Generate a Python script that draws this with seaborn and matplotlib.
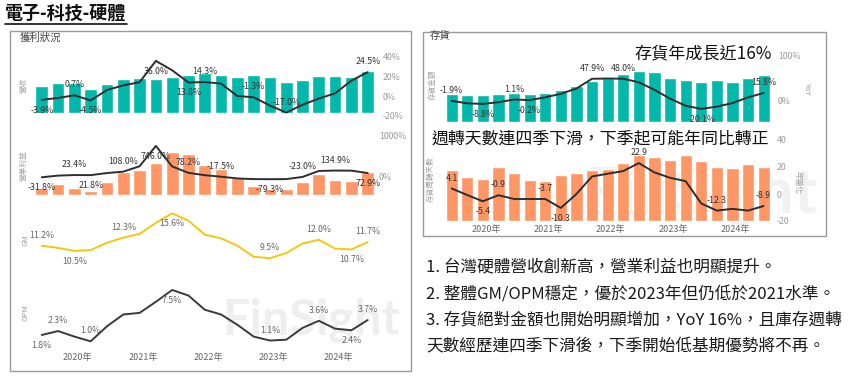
import numpy as np
import matplotlib.pyplot as plt
import seaborn as sns
from matplotlib.patches import Rectangle
from matplotlib.lines import Line2D

# quarterly data, 2019Q4 - 2024Q4
quarters = ['2019Q4', '2020Q1', '2020Q2', '2020Q3', '2020Q4', '2021Q1', '2021Q2',
            '2021Q3', '2021Q4', '2022Q1', '2022Q2', '2022Q3', '2022Q4', '2023Q1',
            '2023Q2', '2023Q3', '2023Q4', '2024Q1', '2024Q2', '2024Q3', '2024Q4']
years = ['2020年', '2021年', '2022年', '2023年', '2024年']

revenue = [82, 92, 92, 74, 87, 102, 105, 102, 110, 115, 122, 115, 110, 115, 110, 95, 100, 112, 113, 110, 127]
revenue_yoy = [-3.9, -2.0, 0.7, -4.5, 6.1, 10.9, 14.1, 36.0, 26.4, 13.8, 14.3, 12.7, 0.0, -1.3,
               -9.8, -17.0, -9.0, -2.6, 2.7, 15.8, 24.5]
op_income = [22, 32, 22, 12, 38, 68, 75, 95, 128, 123, 90, 78, 50, 28, 19, 18, 40, 63, 45, 42, 70]
op_income_yoy = [-31.8, 10, 23.4, 21.8, 73, 108.0, 241, 746.0, 237, 78.2, 20, -17.5, -61, -77,
                 -79.3, -77, -23.0, 125, 134.9, 133, 72.9]
gm = [11.2, 10.9, 10.5, 10.6, 11.6, 12.3, 12.8, 14.3, 15.6, 14.6, 12.7, 12.2, 11.2, 9.7, 9.5,
      10.2, 11.5, 12.0, 10.8, 10.7, 11.7]
opm = [1.8, 2.3, 1.6, 1.0, 2.9, 4.4, 4.6, 6.0, 7.5, 6.8, 5.0, 4.4, 3.1, 1.6, 1.1, 1.2, 2.7,
       3.6, 2.6, 2.4, 3.7]
inventory = [83, 80, 80, 83, 85, 83, 87, 95, 108, 123, 130, 143, 152, 150, 132, 125, 120, 125, 120, 130, 140]
inventory_yoy = [-1.9, -7.5, -8.8, -5.0, 1.1, -0.2, 6.0, 14.0, 26.0, 47.9, 48.5, 48.0, 40.0, 23.0,
                 3.0, -13.0, -20.1, -15.0, -7.0, 6.0, 15.8]
turnover_days = [64, 55, 53, 67, 60, 51, 50, 58, 60, 64, 65, 73, 83, 80, 76, 83, 75, 68, 66, 71, 67]
turnover_chg = [4.1, -0.8, -5.4, -0.9, -3.7, -3.7, -3.7, -10.3, 0.0, 13.0, 15.0, 17.0, 22.9, 16.0,
                12.0, 9.5, -7.0, -12.3, -11.0, -12.3, -8.9]

# which points carry a data label (a = above, b = below)
rev_marks = {0: 'b', 2: 'a', 3: 'b', 7: 'b', 9: 'b', 10: 'a', 13: 'a', 15: 'a', 20: 'a'}
op_marks = {0: 'b', 2: 'a', 3: 'b', 5: 'a', 7: 'b', 9: 'a', 11: 'a', 14: 'b', 16: 'a', 18: 'a', 20: 'b'}
gm_marks = {0: 'a', 2: 'b', 5: 'a', 8: 'b', 14: 'a', 17: 'a', 19: 'b', 20: 'a'}
opm_marks = {0: 'b', 1: 'a', 3: 'a', 8: 'b', 14: 'a', 17: 'a', 19: 'b', 20: 'a'}
inv_marks = {0: 'a', 2: 'b', 4: 'a', 5: 'b', 9: 'a', 11: 'a', 16: 'b', 20: 'a'}
turn_marks = {0: 'a', 2: 'b', 3: 'a', 6: 'a', 7: 'b', 12: 'a', 17: 'a', 20: 'a'}

notes = ['1. 台灣硬體營收創新高，營業利益也明顯提升。',
         '2. 整體GM/OPM穩定，優於2023年但仍低於2021水準。',
         '3. 存貨絕對金額也開始明顯增加，YoY 16%，且庫存週轉',
         '天數經歷連四季下滑後，下季開始低基期優勢將不再。']

TEAL = '#01B8AA'
ORANGE = '#FE9666'
YELLOW = '#F2C80F'
DARK = '#2e2e2e'

sns.set_theme(style='white')
plt.rcParams['font.family'] = ['Noto Sans CJK TC', 'DejaVu Sans']

W, H = 866, 377
fig = plt.figure(figsize=(W / 100, H / 100), dpi=100)
idx = np.arange(len(quarters))


def px(x0, y0, x1, y1):
    return [x0 / W, 1 - y1 / H, (x1 - x0) / W, (y1 - y0) / H]


def fit(ax, ref, top, bot):
    v0, p0, v1, p1 = ref
    s = (p1 - p0) / (v1 - v0)
    ax.set_ylim(v0 + (bot - p0) / s, v0 + (top - p0) / s)


def clean(ax):
    ax.set_xticks([])
    ax.set_yticks([])
    ax.set_xlabel('')
    ax.set_ylabel('')
    ax.patch.set_alpha(0)
    for s in ax.spines.values():
        s.set_visible(False)


def put_labels(ax, vals, marks, fmt, color):
    for i, side in marks.items():
        ax.annotate(fmt.format(vals[i]), (idx[i], vals[i]),
                    xytext=(0, 7.5 if side == 'a' else -7.5), textcoords='offset points',
                    ha='center', va='center', fontsize=6.3, color=color)


def combo(x0, x1, top, bot, bars, line, color, bar_ref, line_ref, ticks, ticklabels,
          marks, fmt, pad):
    ax = fig.add_axes(px(x0, top, x1, bot))
    sns.barplot(x=quarters, y=bars, color=color, saturation=1, width=0.78, ax=ax)
    clean(ax)
    ax.set_xlim(-0.6, len(quarters) - 0.4)
    fit(ax, bar_ref, top, bot)
    ax2 = ax.twinx()
    sns.lineplot(x=idx, y=line, color=DARK, lw=1.4, ax=ax2)
    clean(ax2)
    fit(ax2, line_ref, top, bot)
    ax2.set_yticks(ticks)
    ax2.set_yticklabels(ticklabels)
    ax2.tick_params(axis='y', length=0, pad=pad, labelsize=6.3, labelcolor='#9a9a9a')
    put_labels(ax2, line, marks, fmt, '#333333')
    return ax


def single(x0, x1, top, bot, line, color, ref, marks):
    ax = fig.add_axes(px(x0, top, x1, bot))
    sns.lineplot(x=idx, y=line, color=color, lw=1.4, ax=ax)
    clean(ax)
    ax.set_xlim(-0.6, len(quarters) - 0.4)
    fit(ax, ref, top, bot)
    put_labels(ax, line, marks, '{:.1f}%', '#666666')
    return ax


year_pos = [np.mean([i for i, q in enumerate(quarters) if q.startswith(y[:4])]) - 0.3 for y in years]

# frames and watermark
fig.patches.append(Rectangle((9.5 / W, 1 - 370.5 / H), 401 / W, 340 / H, transform=fig.transFigure,
                             fill=False, ec='#9a9a9a', lw=1, zorder=-2))
fig.patches.append(Rectangle((422.5 / W, 1 - 236 / H), 403.5 / W, 204.5 / H, transform=fig.transFigure,
                             fill=False, ec='#9a9a9a', lw=1, zorder=-2))
fig.text(311 / W, 1 - 320 / H, 'FinSight', fontsize=35, fontweight='bold', color='#eeeeee',
         family='Lato', ha='center', va='center', zorder=-1)
fig.text(818 / W, 1 - 195 / H, 'FinSight', fontsize=46, fontweight='bold', color='#f1f1f1',
         family='Lato', ha='right', va='center', zorder=-1)

# left panel
LX0, LX1 = 32, 377.5
combo(LX0, LX1, 50, 116, revenue, revenue_yoy, TEAL, (0, 113.3, 127, 71), (0, 96, 40, 57),
      [40, 20, 0, -20], ['40%', '20%', '0%', '-20%'], rev_marks, '{:.1f}%', 4)
combo(LX0, LX1, 128, 197, op_income, op_income_yoy, ORANGE, (0, 195, 128, 152.3), (0, 176, 1000, 135.7),
      [1000, 0], ['1000%', '0%'], op_marks, '{:.1f}%', 1)
single(LX0, LX1, 205, 268, gm, YELLOW, (11.2, 245.7, 15.6, 213.3), gm_marks)
ax_opm = single(LX0, LX1, 278, 345, opm, '#3a3a3a', (1.8, 335, 7.5, 290), opm_marks)
ax_opm.set_xticks(year_pos)
ax_opm.set_xticklabels(years)
ax_opm.tick_params(axis='x', length=0, pad=6, labelsize=6.5, labelcolor='#666666')

# right panel
RX0, RX1 = 442.3, 773
combo(RX0, RX1, 50, 124, inventory, inventory_yoy, TEAL, (0, 121.7, 152, 71), (0, 100, 100, 55.7),
      [100, 0], ['100%', '0%'], inv_marks, '{:.1f}%', 3.6)
ax_turn = combo(RX0, RX1, 135, 222, turnover_days, turnover_chg, ORANGE, (0, 221, 83, 154.6),
                (0, 194, 40, 140), [40, 20, 0, -20], ['40', '20', '0', '-20'], turn_marks, '{:.1f}', 2.7)
ax_turn.set_xticks(year_pos)
ax_turn.set_xticklabels(years)
ax_turn.tick_params(axis='x', length=0, pad=2.5, labelsize=6.5, labelcolor='#666666')

# texts
fig.text(5 / W, 1 - 13 / H, '電子-科技-硬體', fontsize=13, fontweight='bold', color='#111111', va='center')
fig.add_artist(Line2D([5 / W, 127 / W], [1 - 24 / H, 1 - 24 / H], color='#111111', lw=1.2))
fig.text(20 / W, 1 - 38 / H, '獲利狀況', fontsize=7.5, color='#444444', va='center')
fig.text(430 / W, 1 - 36 / H, '存貨', fontsize=7.5, color='#444444', va='center')
fig.text(772 / W, 1 - 53 / H, '存貨年成長近16%', fontsize=12.3, color='#111111', ha='right', va='center')
fig.text(432 / W, 1 - 138 / H, '週轉天數連四季下滑，下季起可能年同比轉正', fontsize=12.2, color='#111111',
         va='center')

for x, y, s, r in [(24, 85, '營收', 90), (24, 166, '營業利益', 90), (25, 240, 'GM', 90),
                   (25, 313, 'OPM', 90), (433, 85, '存貨金額', 90), (431, 179, '存貨周轉天數', 90),
                   (807, 88, 'YoY', 270), (798, 182, '年變化', 270)]:
    fig.text(x / W, 1 - y / H, s, fontsize=5.5, color='#a0a0a0', rotation=r, ha='center', va='center')

for i, line in enumerate(notes):
    fig.text(426 / W, 1 - (267 + 26.6 * i) / H, line, fontsize=12, color='#1a1a1a', va='center')

fig.savefig('out.png', dpi=100)
